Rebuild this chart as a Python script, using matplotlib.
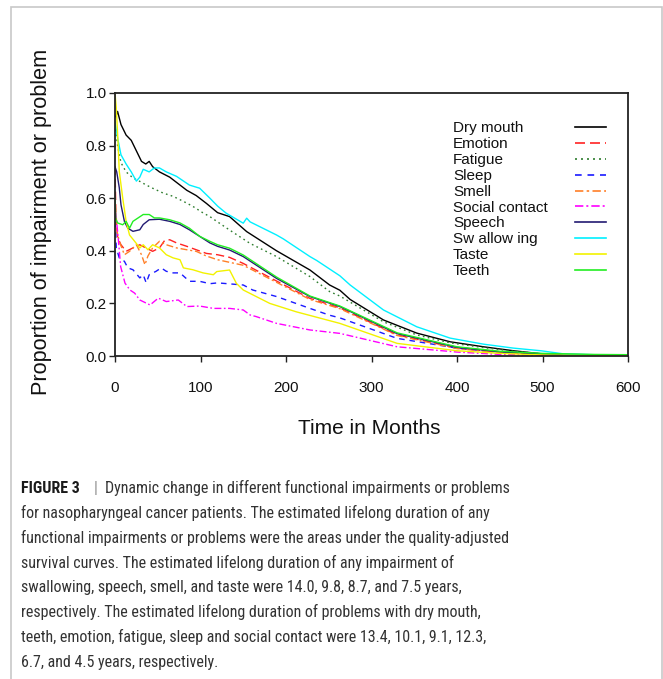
import matplotlib
matplotlib.use("Agg")
import matplotlib.pyplot as plt
from matplotlib.lines import Line2D
from matplotlib.patches import Rectangle
from matplotlib import font_manager

plt.rcParams['font.family'] = ['Liberation Sans', 'DejaVu Sans']

W, H = 663, 679

# ---------------- data ----------------
labels = ["Dry mouth", "Emotion", "Fatigue", "Sleep", "Smell", "Social contact",
          "Speech", "Sw allow ing", "Taste", "Teeth"]

dry_mouth_t = [1, 3, 7, 13, 19, 25, 31, 36, 40, 44, 52, 64, 72, 84, 95, 107, 120, 134,
               154, 189, 228, 251, 263, 275, 314, 353, 392, 431, 466, 500, 530, 600]
dry_mouth_v = [0.91, 0.93, 0.88, 0.84, 0.82, 0.78, 0.74, 0.73, 0.74, 0.72, 0.70, 0.68,
               0.66, 0.63, 0.61, 0.58, 0.545, 0.53, 0.473, 0.40, 0.327, 0.27, 0.25, 0.215,
               0.137, 0.087, 0.054, 0.035, 0.02, 0.008, 0.004, 0.002]

emotion_t = [0, 1, 3, 7, 13, 21, 29, 36, 44, 52, 58, 64, 72, 84, 95, 107, 120, 134, 150,
             189, 228, 263, 330, 400, 450, 500, 600]
emotion_v = [0.72, 0.55, 0.45, 0.423, 0.398, 0.411, 0.423, 0.411, 0.398, 0.411, 0.439,
             0.442, 0.43, 0.417, 0.404, 0.39, 0.385, 0.375, 0.352, 0.285, 0.219, 0.183,
             0.08, 0.03, 0.015, 0.006, 0.003]

fatigue_t = [0, 3, 7, 13, 21, 29, 36, 44, 56, 68, 80, 91, 103, 111, 119, 134, 158, 189,
             228, 251, 263, 314, 353, 392, 431, 466, 500, 540, 600]
fatigue_v = [0.88, 0.80, 0.735, 0.70, 0.677, 0.664, 0.651, 0.638, 0.62, 0.607, 0.588,
             0.569, 0.544, 0.53, 0.512, 0.479, 0.428, 0.378, 0.302, 0.245, 0.228, 0.13,
             0.08, 0.05, 0.032, 0.018, 0.008, 0.004, 0.002]

sleep_t = [0, 1.5, 5, 11, 15, 21, 29, 33, 36.5, 40, 48, 54, 60, 68, 76, 87, 99, 111, 120,
           150, 161, 189, 228, 251, 263, 330, 400, 450, 500, 600]
sleep_v = [0.55, 0.411, 0.373, 0.36, 0.335, 0.328, 0.297, 0.309, 0.278, 0.309, 0.322,
           0.335, 0.322, 0.316, 0.316, 0.284, 0.284, 0.275, 0.278, 0.27, 0.251, 0.226,
           0.181, 0.155, 0.145, 0.067, 0.03, 0.015, 0.006, 0.002]

smell_t = [0, 1.5, 5, 11, 17, 25, 31, 35, 38.5, 44, 52, 60, 72, 84, 95, 107, 120, 150,
           189, 228, 263, 330, 400, 450, 500, 600]
smell_v = [0.60, 0.487, 0.436, 0.385, 0.398, 0.423, 0.385, 0.347, 0.38, 0.411, 0.436,
           0.423, 0.411, 0.404, 0.398, 0.38, 0.366, 0.345, 0.28, 0.215, 0.18, 0.078,
           0.028, 0.013, 0.005, 0.002]

social_t = [0, 1, 4, 6.6, 11.7, 17.5, 23, 29, 41, 50.6, 60, 74, 84, 99, 115, 134, 150,
            158, 165, 189, 228, 263, 330, 400, 450, 500, 600]
social_v = [0.55, 0.543, 0.44, 0.34, 0.277, 0.251, 0.239, 0.213, 0.194, 0.22, 0.207,
            0.213, 0.188, 0.19, 0.181, 0.181, 0.175, 0.156, 0.15, 0.124, 0.099, 0.086,
            0.035, 0.015, 0.006, 0.003, 0.001]

speech_t = [0, 2, 5, 7, 11, 15, 21, 29, 33, 40, 52, 64, 76, 87, 99, 111, 120, 134, 150,
            189, 228, 263, 330, 400, 450, 500, 600]
speech_v = [0.72, 0.70, 0.64, 0.575, 0.512, 0.486, 0.474, 0.48, 0.50, 0.518, 0.52, 0.512,
            0.50, 0.48, 0.455, 0.43, 0.417, 0.403, 0.378, 0.295, 0.226, 0.188, 0.085,
            0.033, 0.016, 0.007, 0.003]

swallowing_t = [0, 3, 7, 13, 19, 25, 29, 33, 40, 46, 52, 60, 72, 87, 99, 111, 120, 130,
                150, 154, 158, 189, 197, 228, 236, 263, 275, 314, 353, 392, 431, 466,
                498, 525, 560, 600]
swallowing_v = [0.89, 0.83, 0.765, 0.73, 0.70, 0.665, 0.68, 0.71, 0.70, 0.715, 0.715,
                0.70, 0.683, 0.65, 0.638, 0.60, 0.57, 0.543, 0.505, 0.524, 0.51, 0.46,
                0.445, 0.378, 0.363, 0.305, 0.27, 0.175, 0.111, 0.068, 0.045, 0.03,
                0.02, 0.008, 0.005, 0.003]

taste_t = [0, 1.5, 3.3, 5, 9, 13, 17, 23, 29, 33, 38.5, 44, 52, 60, 68, 76, 80, 91, 103,
           115, 119, 134, 142, 150, 181, 212, 263, 330, 400, 450, 500, 600]
taste_v = [1.0, 0.943, 0.829, 0.702, 0.601, 0.512, 0.46, 0.436, 0.411, 0.423, 0.404,
           0.423, 0.411, 0.385, 0.373, 0.366, 0.335, 0.328, 0.316, 0.309, 0.321, 0.327,
           0.276, 0.251, 0.2, 0.168, 0.124, 0.048, 0.02, 0.01, 0.004, 0.002]

teeth_t = [0, 1, 3, 9, 13, 17, 21, 27, 33, 40, 46, 52, 64, 76, 87, 99, 111, 120, 134,
           150, 189, 228, 263, 330, 400, 450, 500, 560, 600]
teeth_v = [0.60, 0.52, 0.506, 0.499, 0.512, 0.486, 0.512, 0.525, 0.538, 0.538, 0.525,
           0.525, 0.518, 0.506, 0.486, 0.455, 0.436, 0.423, 0.41, 0.384, 0.30, 0.228,
           0.19, 0.088, 0.035, 0.018, 0.01, 0.006, 0.005]

x_ticks = [0, 100, 200, 300, 400, 500, 600]
y_ticks = [0.0, 0.2, 0.4, 0.6, 0.8, 1.0]

caption_lines = [
    "for nasopharyngeal cancer patients. The estimated lifelong duration of any",
    "functional impairments or problems were the areas under the quality-adjusted",
    "survival curves. The estimated lifelong duration of any impairment of",
    "swallowing, speech, smell, and taste were 14.0, 9.8, 8.7, and 7.5 years,",
    "respectively. The estimated lifelong duration of problems with dry mouth,",
    "teeth, emotion, fatigue, sleep and social contact were 13.4, 10.1, 9.1, 12.3,",
    "6.7, and 4.5 years, respectively.",
]

# ---------------- styles ----------------
times = [dry_mouth_t, emotion_t, fatigue_t, sleep_t, smell_t, social_t,
         speech_t, swallowing_t, taste_t, teeth_t]
values = [dry_mouth_v, emotion_v, fatigue_v, sleep_v, smell_v, social_v,
          speech_v, swallowing_v, taste_v, teeth_v]
colors = ["#000000", "#ff2222", "#2e7d2e", "#1a1aff", "#ff7f27", "#ff00ff",
          "#221a72", "#00f0ff", "#f2f200", "#22ee22"]
styles = ["-", (0, (6, 3)), (0, (1.2, 2.4)), (0, (4, 3.5)), (0, (5, 2, 1.5, 2)),
          (0, (5, 1.8, 1.2, 1.8)), "-", "-", "-", "-"]

fig = plt.figure(figsize=(W / 100, H / 100), dpi=100)
fig.patch.set_facecolor("white")

# light gray frame around the figure panel
fig.add_artist(Rectangle((10.5 / W, -0.05), (662 - 10.5) / W, 1.05 - 6.5 / H,
                         transform=fig.transFigure, fill=False,
                         edgecolor="#c8c8c8", linewidth=1.2))

ax = fig.add_axes([115 / W, 1 - 356 / H, 513 / W, 263 / H])
for t, v, c, ls in zip(times, values, colors, styles):
    ax.plot(t, v, color=c, linestyle=ls, linewidth=1.0)

ax.set_xlim(0, 600)
ax.set_ylim(0, 1.0)
ax.set_xticks(x_ticks)
ax.set_xticklabels([str(x) for x in x_ticks])
ax.set_yticks(y_ticks)
ax.set_yticklabels([f"{y:.1f}" for y in y_ticks])
ax.tick_params(axis="both", direction="out", length=4, width=1.0, labelsize=11,
               colors="#222222", labelcolor="#111111")
ax.tick_params(axis="x", pad=14)
ax.tick_params(axis="y", pad=2)
for s in ax.spines.values():
    s.set_linewidth(1.3)
    s.set_color("#222222")

# manual legend: labels left-aligned, handles right-aligned
lx_text = (453 - 115) / 513
lx1, lx2 = (575 - 115) / 513, (606 - 115) / 513
ly0 = (356 - 128) / 263
dly = 15.9 / 263
for i, (lab, c, ls) in enumerate(zip(labels, colors, styles)):
    y = ly0 - i * dly
    ax.text(lx_text, y, lab, transform=ax.transAxes, fontsize=11, va="center",
            ha="left", color="#111111")
    ax.add_line(Line2D([lx1, lx2], [y + 0.004, y + 0.004], transform=ax.transAxes,
                       color=c, linestyle=ls, linewidth=1.2))

fig.text(369 / W, 1 - 428 / H, "Time in Months", fontsize=15, ha="center",
         va="center", color="#111111")
fig.text(42 / W, 1 - 222 / H, "Proportion of impairment or problem", fontsize=15.6,
         ha="center", va="center", rotation=90, color="#111111")

# caption font: prefer a narrow / condensed sans face
entries = font_manager.fontManager.ttflist
names = {f.name for f in entries}
cap_family = None
cap_stretch = "normal"
for cand in ["Liberation Sans Narrow", "Roboto Condensed", "Open Sans Condensed",
             "Noto Sans Condensed"]:
    if cand in names:
        cap_family = cand
        break
if cap_family is None:
    if any(f.name == "DejaVu Sans" and str(f.stretch) in ("condensed", "semi-condensed")
           for f in entries):
        cap_family = "DejaVu Sans"
        cap_stretch = "condensed"
    elif "Roboto" in names:
        cap_family = "Roboto"
    else:
        cap_family = "Liberation Sans"

fs = 11
base0 = 493.3
step = 24.76
fam = [cap_family, "DejaVu Sans"]
t_fig = fig.text(21 / W, 1 - base0 / H, "FIGURE 3", fontsize=fs, fontweight="bold",
                 family=fam, fontstretch=cap_stretch, color="#1a1a1a", va="baseline")
t_bar = fig.text(94 / W, 1 - base0 / H, "|", fontsize=fs, family=fam,
                 color="#888888", va="baseline")
t_first = fig.text(105 / W, 1 - base0 / H,
                   "Dynamic change in different functional impairments or problems",
                   fontsize=fs, family=fam, fontstretch=cap_stretch, color="#333333",
                   va="baseline")
cap_texts = [t_fig, t_bar, t_first]
for i, line in enumerate(caption_lines):
    cap_texts.append(fig.text(21 / W, 1 - (base0 + (i + 1) * step) / H, line, fontsize=fs,
                              family=fam, fontstretch=cap_stretch, color="#333333",
                              va="baseline"))

# scale caption font so the longest line width matches the reference (~487 px)
fig.canvas.draw()
r = fig.canvas.get_renderer()
wref = cap_texts[4].get_window_extent(r).width
scale = 487.0 / wref
for t in cap_texts:
    t.set_fontsize(fs * scale)

fig.savefig("out.png", dpi=100, facecolor="white")
